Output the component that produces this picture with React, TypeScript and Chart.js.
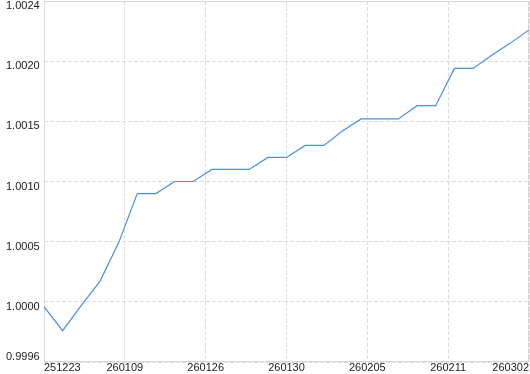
import React, { useEffect, useRef } from 'react';
import { Chart, registerables } from 'chart.js';

Chart.register(...registerables);

// Series values, one per trading point (27 points)
const navValues = [
  0.99996, 0.99976, 0.99997, 1.00017, 1.00049, 1.0009, 1.0009, 1.001, 1.001,
  1.0011, 1.0011, 1.0011, 1.0012, 1.0012, 1.0013, 1.0013, 1.00142, 1.00152,
  1.00152, 1.00152, 1.00163, 1.00163, 1.00194, 1.00194, 1.00205, 1.00215, 1.00226,
];

// X tick labels (evenly spread across the axis)
const xTickLabels = ['251223', '260109', '260126', '260130', '260205', '260211', '260302'];

// Y axis range and tick labels as shown
const yMin = 0.9995;
const yMax = 1.0025;
const yStep = 0.0005;
const yTickLabels = ['0.9996', '1.0000', '1.0005', '1.0010', '1.0015', '1.0020', '1.0024'];

const FONT = "'Liberation Sans', Arial, sans-serif";
const TEXT_COLOR = '#1a1a1a';
const GRID_COLOR = '#dcdcdc';
const FRAME_COLOR = '#d6d6d6';
const LINE_COLOR = '#4a8fe0';

const framePlugin = {
  id: 'frameAndYLabels',
  beforeDatasetsDraw(chart: any) {
    const { ctx, chartArea: a, scales } = chart;
    const y = scales.y;
    ctx.save();
    ctx.setLineDash([]);
    ctx.strokeStyle = FRAME_COLOR;
    ctx.lineWidth = 1;
    const l = Math.floor(a.left) + 0.5;
    const r = Math.ceil(a.right) - 0.5;
    const t = Math.floor(a.top) + 0.5;
    const b = Math.ceil(a.bottom) - 0.5;
    ctx.beginPath();
    ctx.moveTo(l, t);
    ctx.lineTo(r, t);
    ctx.lineTo(r, b);
    ctx.lineTo(l, b);
    ctx.closePath();
    ctx.stroke();

    ctx.fillStyle = TEXT_COLOR;
    ctx.font = `11px ${FONT}`;
    ctx.textAlign = 'left';
    ctx.textBaseline = 'alphabetic';
    y.ticks.forEach((tk: any, i: number) => {
      const py = y.getPixelForValue(tk.value);
      const base = Math.min(py + 8, a.bottom - 2);
      const label = yTickLabels[i] ?? '';
      ctx.fillText(label, 6, base);
    });
    ctx.restore();
  },
};

export default function App() {
  const ref = useRef<HTMLCanvasElement | null>(null);

  useEffect(() => {
    if (!ref.current) return;
    const n = navValues.length;
    const chart = new Chart(ref.current, {
      type: 'line',
      data: {
        datasets: [
          {
            data: navValues.map((v, i) => ({ x: i, y: v })),
            borderColor: LINE_COLOR,
            borderWidth: 1.2,
            pointRadius: 0,
            tension: 0,
            fill: false,
          },
        ],
      },
      options: {
        animation: false,
        responsive: true,
        maintainAspectRatio: false,
        layout: { padding: { top: 1, right: 1, left: 0, bottom: 0 } },
        plugins: { legend: { display: false }, tooltip: { enabled: false } },
        scales: {
          x: {
            type: 'linear',
            min: 0,
            max: n - 1,
            afterBuildTicks: (scale: any) => {
              scale.ticks = xTickLabels.map((_, k) => ({
                value: (k * (n - 1)) / (xTickLabels.length - 1),
              }));
            },
            afterFit: (scale: any) => {
              scale.height = 12;
              scale.paddingLeft = 0;
              scale.paddingRight = 0;
            },
            grid: {
              color: GRID_COLOR,
              drawTicks: false,
              lineWidth: 1,
            },
            border: { display: false, dash: [4, 2] },
            ticks: {
              autoSkip: false,
              maxRotation: 0,
              align: 'inner',
              padding: 0,
              color: TEXT_COLOR,
              font: { family: FONT, size: 11, lineHeight: 1 },
              callback: (_v: any, i: number) => xTickLabels[i],
            },
          },
          y: {
            type: 'linear',
            min: yMin,
            max: yMax,
            afterFit: (scale: any) => {
              scale.width = 44;
              scale.paddingTop = 0;
              scale.paddingBottom = 0;
            },
            grid: {
              color: GRID_COLOR,
              drawTicks: false,
              lineWidth: 1,
            },
            border: { display: false, dash: [4, 2] },
            ticks: {
              display: false,
              stepSize: yStep,
            },
          },
        },
      } as any,
      plugins: [framePlugin],
    });
    return () => chart.destroy();
  }, []);

  return (
    <div style={{ position: 'fixed', left: 0, top: 0, width: 530, height: 374, background: '#fff' }}>
      <canvas ref={ref} />
    </div>
  );
}
